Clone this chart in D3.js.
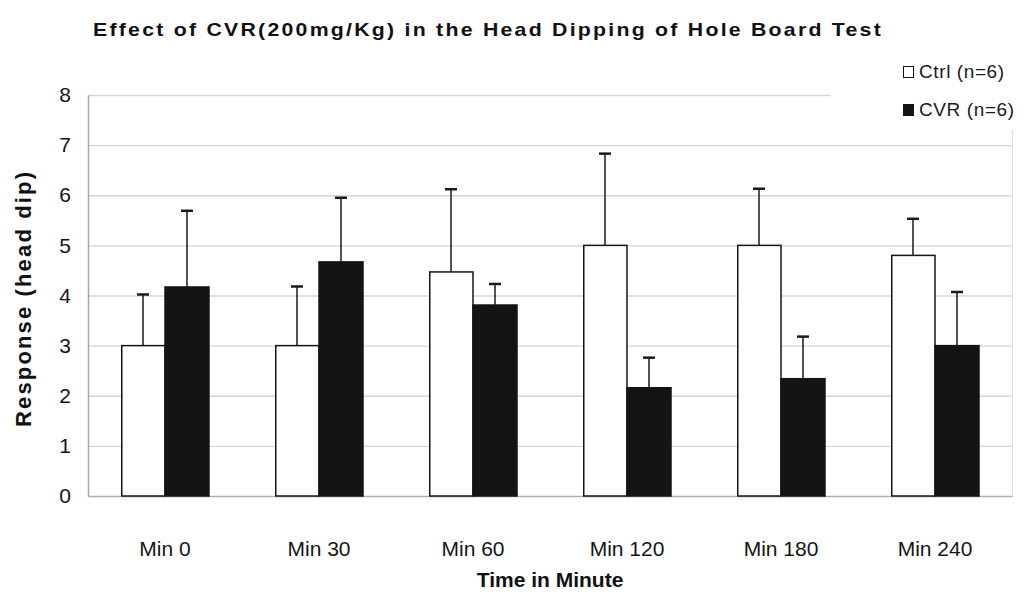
<!DOCTYPE html>
<html>
<head>
<meta charset="utf-8">
<script src="https://cdn.jsdelivr.net/npm/d3@7"></script>
<style>
  html, body { margin: 0; padding: 0; background: #fff; }
  svg { display: block; font-family: Arial, "Liberation Sans", sans-serif; }
</style>
</head>
<body>
<svg id="chart" width="1024" height="592"></svg>
<script>
const categories = ["Min 0", "Min 30", "Min 60", "Min 120", "Min 180", "Min 240"];
const seriesNames = ["Ctrl (n=6)", "CVR (n=6)"];
const ctrlMeans = [3.0, 3.0, 4.47, 5.0, 5.0, 4.8];
const ctrlErr = [1.02, 1.18, 1.65, 1.83, 1.13, 0.73];
const cvrMeans = [4.17, 4.67, 3.81, 2.16, 2.34, 3.0];
const cvrErr = [1.52, 1.28, 0.42, 0.6, 0.84, 1.07];
const yTicks = [0, 1, 2, 3, 4, 5, 6, 7, 8];
const titleText = "Effect of CVR(200mg/Kg) in the Head Dipping of Hole Board Test";
const xTitle = "Time in Minute";
const yTitle = "Response (head dip)";

const svg = d3.select("#chart");
const plot = { left: 88, right: 1012, top: 95, bottom: 496 };

const x = d3.scaleBand().domain(categories).range([plot.left, plot.right]).padding(0);
const xs = d3.scaleBand().domain(seriesNames).range([0, x.bandwidth()]).paddingInner(0).paddingOuter(0.75);
const y = d3.scaleLinear().domain([0, 8]).range([plot.bottom, plot.top]);

const rows = categories.map((c, i) => ({
  cat: c,
  vals: [
    { s: seriesNames[0], m: ctrlMeans[i], e: ctrlErr[i] },
    { s: seriesNames[1], m: cvrMeans[i], e: cvrErr[i] }
  ]
}));

// gridlines
svg.append("g").selectAll("line").data(yTicks.filter(d => d > 0)).join("line")
  .attr("x1", plot.left).attr("x2", plot.right)
  .attr("y1", d => y(d) + 0.5).attr("y2", d => y(d) + 0.5)
  .attr("stroke", "#d6d6d6").attr("stroke-width", 1.3);

// right faint border
svg.append("line").attr("x1", plot.right + 0.5).attr("x2", plot.right + 0.5)
  .attr("y1", plot.top).attr("y2", plot.bottom).attr("stroke", "#e2e2e2");

// y axis
const yAxis = d3.axisLeft(y).tickValues(yTicks).tickSize(0).tickPadding(17).tickFormat(d3.format("d"));
const gy = svg.append("g").attr("transform", `translate(${plot.left},0)`).call(yAxis);
gy.select(".domain").attr("stroke", "#a8a8a8").attr("stroke-width", 1.5);
gy.selectAll("text").attr("font-size", 21).attr("fill", "#151515").attr("font-family", "Arial, 'Liberation Sans', sans-serif");

// x axis
const xAxis = d3.axisBottom(x).tickSize(0).tickPadding(45);
const gx = svg.append("g").attr("transform", `translate(0,${plot.bottom})`).call(xAxis);
gx.select(".domain").attr("stroke", "#b0b0b0").attr("stroke-width", 1.5);
gx.selectAll("text").attr("font-size", 21).attr("fill", "#151515").attr("font-family", "Arial, 'Liberation Sans', sans-serif");

// bars
const groups = svg.append("g").selectAll("g").data(rows).join("g")
  .attr("transform", d => `translate(${x(d.cat)},0)`);

groups.selectAll("rect").data(d => d.vals).join("rect")
  .attr("x", d => xs(d.s) + (d.s === seriesNames[0] ? 0.75 : 0))
  .attr("y", d => y(d.m))
  .attr("width", d => xs.bandwidth() - (d.s === seriesNames[0] ? 0.75 : 0))
  .attr("height", d => y(0) - y(d.m))
  .attr("fill", d => d.s === seriesNames[0] ? "#ffffff" : "#141414")
  .attr("stroke", "#141414")
  .attr("stroke-width", 1.5);

// error bars
const eb = groups.selectAll("g.err").data(d => d.vals).join("g").attr("class", "err");
eb.append("line")
  .attr("x1", d => xs(d.s) + xs.bandwidth() / 2).attr("x2", d => xs(d.s) + xs.bandwidth() / 2)
  .attr("y1", d => y(d.m)).attr("y2", d => y(d.m + d.e))
  .attr("stroke", "#1a1a1a").attr("stroke-width", 1.5);
eb.append("line")
  .attr("x1", d => xs(d.s) + xs.bandwidth() / 2 - 6).attr("x2", d => xs(d.s) + xs.bandwidth() / 2 + 6)
  .attr("y1", d => y(d.m + d.e)).attr("y2", d => y(d.m + d.e))
  .attr("stroke", "#1a1a1a").attr("stroke-width", 2.5);

// legend (white box covering grid)
svg.append("rect").attr("x", 830).attr("y", 52).attr("width", 194).attr("height", 78).attr("fill", "#fff");
const leg = svg.append("g").selectAll("g").data(seriesNames).join("g")
  .attr("transform", (d, i) => `translate(903,${66 + i * 38})`);
leg.append("rect").attr("x", 0.5).attr("y", 0.5).attr("width", 10).attr("height", 11)
  .attr("fill", (d, i) => i === 0 ? "#fff" : "#141414").attr("stroke", "#141414").attr("stroke-width", 1);
leg.append("text").attr("x", 16).attr("y", 12).attr("font-size", 19).attr("letter-spacing", 0.6)
  .attr("fill", "#1a1a1a").text(d => d);

// title
svg.append("text").attr("x", 93).attr("y", 36).attr("font-size", 19).attr("font-weight", "bold")
  .attr("letter-spacing", 2)
  .attr("textLength", 790).attr("lengthAdjust", "spacingAndGlyphs").attr("fill", "#111").text(titleText);

// axis titles
svg.append("text").attr("x", (plot.left + plot.right) / 2).attr("y", 587).attr("text-anchor", "middle")
  .attr("font-size", 21).attr("font-weight", "bold").attr("fill", "#111").text(xTitle);
svg.append("text").attr("transform", `translate(31,${(172 + 427) / 2}) rotate(-90)`).attr("text-anchor", "middle")
  .attr("font-size", 22).attr("font-weight", "bold").attr("fill", "#111")
  .attr("textLength", 255).attr("lengthAdjust", "spacing").text(yTitle);
</script>
</body>
</html>
